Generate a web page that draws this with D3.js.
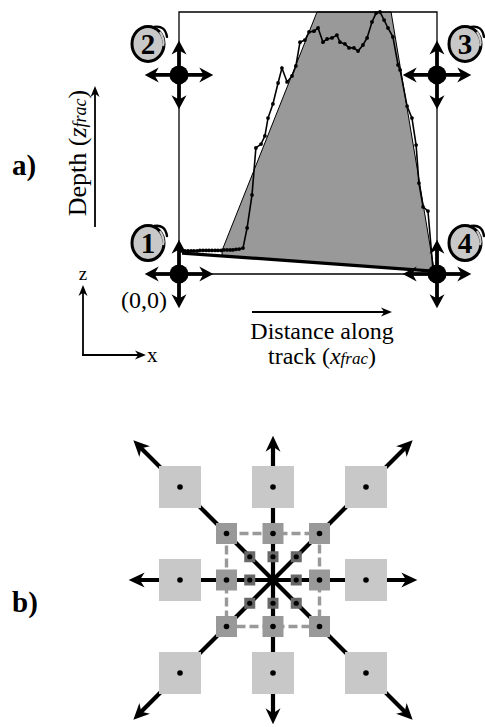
<!DOCTYPE html>
<html>
<head>
<meta charset="utf-8">
<title>Profile diagram</title>
<script src="https://cdn.jsdelivr.net/npm/d3@7"></script>
<style>
  body { margin: 0; background: #fff; }
  text { font-family: "Liberation Serif", "Times New Roman", serif; fill: #000; }
</style>
</head>
<body>
<svg width="485" height="727" id="mainsvg"></svg>
<script>
// ---- panel a data (fractional coordinates) ----
const profileX = [0.012, 0.023, 0.035, 0.047, 0.058, 0.070, 0.081, 0.093, 0.105, 0.116, 0.128,
  0.140, 0.151, 0.163, 0.174, 0.186, 0.198, 0.209, 0.221, 0.233, 0.248,
  0.264, 0.283, 0.298, 0.318, 0.333, 0.345, 0.364, 0.384, 0.399, 0.419, 0.438, 0.453,
  0.469, 0.488, 0.504, 0.523, 0.539, 0.558, 0.574, 0.593, 0.612, 0.624, 0.643, 0.659,
  0.678, 0.694, 0.713, 0.729, 0.748, 0.764, 0.779, 0.795, 0.810, 0.829, 0.849, 0.857,
  0.884, 0.903, 0.919, 0.930, 0.946, 0.965, 0.984]
const profileZ = [0.088, 0.088, 0.088, 0.088, 0.088, 0.088, 0.090, 0.090, 0.090, 0.090, 0.090,
  0.090, 0.090, 0.090, 0.092, 0.092, 0.092, 0.092, 0.094, 0.095, 0.099,
  0.176, 0.302, 0.481, 0.496, 0.527, 0.595, 0.649, 0.729, 0.786, 0.733, 0.756, 0.794,
  0.885, 0.893, 0.924, 0.927, 0.939, 0.885, 0.897, 0.901, 0.912, 0.885, 0.878, 0.863,
  0.863, 0.851, 0.874, 0.901, 0.962, 0.996, 1.000, 0.969, 0.939, 0.905, 0.798, 0.779,
  0.641, 0.595, 0.492, 0.347, 0.256, 0.240, 0.023]
const shadeX = [0.167, 0.535, 0.822, 0.990, 0.984, 0.167]
const shadeZ = [0.090, 1.000, 1.000, 0.008, 0.011, 0.068]
const baseX = [0.012, 0.984]
const baseZ = [0.080, 0.011]
const cornerX = [0, 0, 1, 1]
const cornerZ = [0, 0.76, 0.76, 0]
const cornerLabels = ['1', '2', '3', '4']

// ---- panel b data (grid units around the centre) ----
const ringLevels = [2, 1, 0.5]
const ringFill = ['#c8c8c8', '#999999', '#686868']
const ringSize = [42, 21, 11]
const dirX = [1, 1, 0, -1, -1, -1, 0, 1]
const dirY = [0, 1, 1, 1, 0, -1, -1, -1]
const arrowReach = [3.1, 3.0]   // straight, diagonal

const svg = d3.select('#mainsvg')
const defs = svg.append('defs')
const addHead = (id, len, wid) => {
  defs.append('marker')
    .attr('id', id)
    .attr('markerUnits', 'userSpaceOnUse')
    .attr('viewBox', `${-len} ${-wid} ${len * 2} ${wid * 2}`)
    .attr('markerWidth', len * 2).attr('markerHeight', wid * 2)
    .attr('refX', 0).attr('refY', 0)
    .attr('orient', 'auto')
    .append('path')
    .attr('d', `M${len * 0.45},0 L${-len * 0.55},${-wid / 2} L${-len * 0.25},0 L${-len * 0.55},${wid / 2} Z`)
    .attr('fill', '#000')
}
addHead('headBig', 16, 15)
addHead('headMid', 14, 15)
addHead('headThin', 11, 9)

// ================= panel a =================
const x = d3.scaleLinear().domain([0, 1]).range([179, 437])
const z = d3.scaleLinear().domain([0, 1]).range([274, 12])
const ga = svg.append('g')

ga.append('path')
  .attr('d', d3.line()(shadeX.map((v, i) => [x(v), z(shadeZ[i])])) + 'Z')
  .attr('fill', '#999999')
  .attr('stroke', '#000').attr('stroke-width', 1)

ga.append('path')
  .attr('d', d3.line()(profileX.map((v, i) => [x(v), z(profileZ[i])])))
  .attr('fill', 'none').attr('stroke', '#000').attr('stroke-width', 1.6)
ga.selectAll('circle.pt')
  .data(profileX)
  .join('circle').attr('class', 'pt')
  .attr('cx', d => x(d))
  .attr('cy', (d, i) => z(profileZ[i]))
  .attr('r', 1.9)

ga.append('line')
  .attr('x1', x(baseX[0])).attr('y1', z(baseZ[0]))
  .attr('x2', x(baseX[1])).attr('y2', z(baseZ[1]))
  .attr('stroke', '#000').attr('stroke-width', 3.2)

// frame
ga.append('path')
  .attr('d', `M${x(0)},${z(0)} V${z(1)} H${x(1)} V${z(0)} H${x(0)}`)
  .attr('fill', 'none').attr('stroke', '#000').attr('stroke-width', 1.3)

// corner nodes with arrows
const arm = 35
cornerX.forEach((cx, i) => {
  const px = x(cx), py = z(cornerZ[i])
  ;[[1, 0], [-1, 0], [0, 1], [0, -1]].forEach(([dx, dy]) => {
    ga.append('line')
      .attr('x1', px).attr('y1', py)
      .attr('x2', px + dx * (arm - 7)).attr('y2', py + dy * (arm - 7))
      .attr('stroke', '#000').attr('stroke-width', 3.8)
      .attr('marker-end', 'url(#headMid)')
  })
  ga.append('circle').attr('cx', px).attr('cy', py).attr('r', 9.5)
})

// circled labels: filled ring plus a little hand-drawn tail
cornerLabels.forEach((lab, i) => {
  const left = cornerX[i] === 0
  const lx = x(cornerX[i]) + (left ? -31 : 28)
  const ly = z(cornerZ[i]) - 31
  ga.append('ellipse').attr('cx', lx).attr('cy', ly).attr('rx', 16).attr('ry', 17.5)
    .attr('fill', '#c8c8c8').attr('stroke', '#000').attr('stroke-width', 3)
  ga.append('path')
    .attr('d', `M${lx + 6},${ly - 17} Q${lx + 17},${ly - 19} ${lx + 19},${ly - 7}`)
    .attr('fill', 'none').attr('stroke', '#000').attr('stroke-width', 2.4)
    .attr('stroke-linecap', 'round')
  ga.append('path')
    .attr('d', `M${lx + 12},${ly - 12} Q${lx + 17},${ly - 4} ${lx + 15},${ly + 2}`)
    .attr('fill', 'none').attr('stroke', '#c8c8c8').attr('stroke-width', 2.2)
  ga.append('text').attr('x', lx).attr('y', ly + 10)
    .attr('text-anchor', 'middle').attr('font-size', 29).attr('font-weight', 'bold')
    .text(lab)
})

ga.append('text').attr('x', 167).attr('y', 308)
  .attr('text-anchor', 'end').attr('font-size', 24).text('(0,0)')

// x label + arrow
ga.append('line').attr('x1', 252).attr('y1', 312).attr('x2', 387).attr('y2', 312)
  .attr('stroke', '#000').attr('stroke-width', 1.8).attr('marker-end', 'url(#headThin)')
ga.append('text').attr('x', 322).attr('y', 339).attr('text-anchor', 'middle')
  .attr('font-size', 24).text('Distance along')
const tl = ga.append('text').attr('x', 322).attr('y', 364).attr('text-anchor', 'middle')
  .attr('font-size', 24)
tl.append('tspan').text('track (')
tl.append('tspan').attr('font-style', 'italic').text('x')
tl.append('tspan').attr('font-style', 'italic').attr('font-size', 17).text('frac')
tl.append('tspan').text(')')

// depth label + arrow
ga.append('line').attr('x1', 95).attr('y1', 227).attr('x2', 95).attr('y2', 91)
  .attr('stroke', '#000').attr('stroke-width', 1.8).attr('marker-end', 'url(#headThin)')
const dl = ga.append('text').attr('transform', 'translate(86,153) rotate(-90)')
  .attr('text-anchor', 'middle').attr('font-size', 26)
dl.append('tspan').text('Depth (')
dl.append('tspan').attr('font-style', 'italic').text('z')
dl.append('tspan').attr('font-style', 'italic').attr('font-size', 18).text('frac')
dl.append('tspan').text(')')

ga.append('text').attr('x', 12).attr('y', 175).attr('font-size', 29)
  .attr('font-weight', 'bold').text('a)')

// small z/x axes
ga.append('path').attr('d', 'M83,355 V290')
  .attr('stroke', '#000').attr('stroke-width', 1.8).attr('fill', 'none')
  .attr('marker-end', 'url(#headThin)')
ga.append('path').attr('d', 'M82,355 H141')
  .attr('stroke', '#000').attr('stroke-width', 1.8).attr('fill', 'none')
  .attr('marker-end', 'url(#headThin)')
ga.append('text').attr('x', 83).attr('y', 280).attr('text-anchor', 'middle')
  .attr('font-size', 19).text('z')
ga.append('text').attr('x', 147).attr('y', 362).attr('font-size', 21).text('x')

// ================= panel b =================
const cx0 = 273, cy0 = 580
const u = d3.scaleLinear().domain([-1, 1]).range([-46.5, 46.5])
const gb = svg.append('g').attr('transform', `translate(${cx0},${cy0})`)

dirX.forEach((dx, i) => {
  const reach = (dx !== 0 && dirY[i] !== 0) ? arrowReach[1] : arrowReach[0]
  const ex = u(dx * reach), ey = u(dirY[i] * reach)
  const len = Math.hypot(ex, ey)
  gb.append('line')
    .attr('x1', 0).attr('y1', 0)
    .attr('x2', ex * (len - 7) / len).attr('y2', ey * (len - 7) / len)
    .attr('stroke', '#000').attr('stroke-width', 4.2)
    .attr('marker-end', 'url(#headBig)')
})

// dashed ring connecting the middle squares
gb.append('rect')
  .attr('x', u(-1)).attr('y', u(-1)).attr('width', u(2) - u(0)).attr('height', u(2) - u(0))
  .attr('fill', 'none').attr('stroke', '#999999').attr('stroke-width', 3.4)
  .attr('stroke-dasharray', '9,4')

ringLevels.forEach((lv, k) => {
  const s = ringSize[k]
  dirX.forEach((dx, i) => {
    const px = u(dx * lv), py = u(dirY[i] * lv)
    gb.append('rect')
      .attr('x', px - s / 2).attr('y', py - s / 2)
      .attr('width', s).attr('height', s)
      .attr('fill', ringFill[k])
    gb.append('circle').attr('cx', px).attr('cy', py).attr('r', k === 2 ? 2.6 : 2.8)
  })
})

svg.append('text').attr('x', 12).attr('y', 612).attr('font-size', 29)
  .attr('font-weight', 'bold').text('b)')
</script>
</body>
</html>
